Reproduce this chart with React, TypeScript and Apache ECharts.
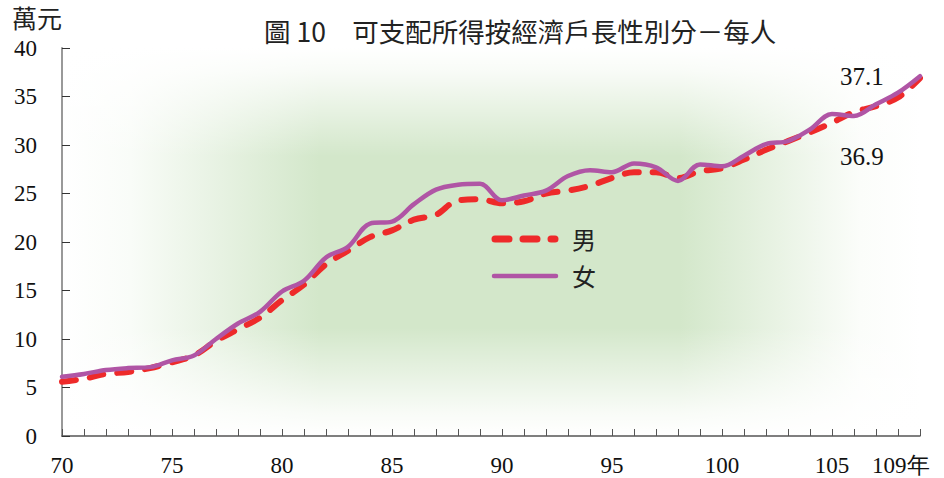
import React, { useEffect, useRef } from "react";
import * as echarts from "echarts";

const years = [70,71,72,73,74,75,76,77,78,79,80,81,82,83,84,85,86,87,88,89,90,91,92,93,94,95,96,97,98,99,100,101,102,103,104,105,106,107,108,109];
const male = [5.6,5.9,6.4,6.6,7.0,7.6,8.3,9.8,11.0,12.2,14.0,15.6,17.7,19.1,20.5,21.2,22.3,22.8,24.3,24.4,24.0,24.2,25.0,25.3,25.8,26.6,27.2,27.2,26.6,27.3,27.6,28.5,29.5,30.4,31.3,32.3,33.4,34.0,34.9,36.9];
const female = [6.1,6.4,6.8,7.0,7.1,7.8,8.3,10.0,11.6,12.8,14.9,16.0,18.4,19.5,21.9,22.1,23.9,25.4,25.9,26.0,24.3,24.8,25.3,26.8,27.4,27.2,28.1,27.7,26.3,28.0,27.8,28.9,30.1,30.4,31.6,33.2,33.0,34.2,35.4,37.1];
const xLabelYears = [70, 75, 80, 85, 90, 95, 100, 105];
const lastYearLabel = "109年";
const seriesNames = ["男", "女"];
const titleText = "圖 10　可支配所得按經濟戶長性別分－每人";
const unitText = "萬元";

const serif = "'Liberation Serif', 'Times New Roman', serif";
const cjk = "'Noto Sans CJK TC', 'Noto Sans', sans-serif";
const RED = "#ee2a2a";
const PURPLE = "#b055a5";

export default function App() {
  const ref = useRef<HTMLDivElement>(null);
  useEffect(() => {
    document.body.style.margin = "0";
    document.body.style.overflow = "hidden";
    const chart = echarts.init(ref.current!, null, { renderer: "svg" });
    const maleData = years.map((y, i) => [y, male[i]]);
    const femaleData = years.map((y, i) => [y, female[i]]);
    chart.setOption({
      animation: false,
      backgroundColor: "#ffffff",
      grid: { left: 62, right: 24, top: 48, bottom: 42 },
      graphic: [
        {
          type: "rect",
          z: -10,
          silent: true,
          shape: { x: 62, y: 48, width: 858, height: 388 },
          style: {
            fill: new echarts.graphic.LinearGradient(0, 0, 1, 0, [
              { offset: 0, color: "#ffffff" },
              { offset: 0.08, color: "#f9fcf8" },
              { offset: 0.3, color: "#d3e7ca" },
              { offset: 0.72, color: "#d3e7ca" },
              { offset: 0.93, color: "#fbfdfa" },
              { offset: 1, color: "#ffffff" },
            ]),
          },
        },
        {
          type: "rect",
          z: -9,
          silent: true,
          shape: { x: 62, y: 48, width: 858, height: 388 },
          style: {
            fill: new echarts.graphic.LinearGradient(0, 0, 0, 1, [
              { offset: 0, color: "rgba(255,255,255,1)" },
              { offset: 0.06, color: "rgba(255,255,255,0.85)" },
              { offset: 0.28, color: "rgba(255,255,255,0)" },
              { offset: 0.72, color: "rgba(255,255,255,0)" },
              { offset: 0.94, color: "rgba(255,255,255,0.85)" },
              { offset: 1, color: "rgba(255,255,255,1)" },
            ]),
          },
        },
        {
          type: "text",
          left: 264,
          top: 17,
          style: { text: titleText, font: `26.5px ${cjk}`, fill: "#222" },
        },
        {
          type: "text",
          left: 12,
          top: 4,
          style: { text: unitText, font: `25px ${cjk}`, fill: "#222" },
        },
        {
          type: "text",
          left: 872,
          top: 454,
          style: { text: lastYearLabel, font: `23px ${serif}`, fill: "#111" },
        },
        {
          type: "line",
          shape: { x1: 495, y1: 239, x2: 555, y2: 239 },
          style: { stroke: RED, lineWidth: 7, lineDash: [14, 14], lineCap: "round" },
        },
        {
          type: "text",
          left: 572,
          top: 226,
          style: { text: seriesNames[0], font: `24px ${cjk}`, fill: "#222" },
        },
        {
          type: "line",
          shape: { x1: 494, y1: 276, x2: 556, y2: 276 },
          style: { stroke: PURPLE, lineWidth: 4.5, lineCap: "round" },
        },
        {
          type: "text",
          left: 572,
          top: 263,
          style: { text: seriesNames[1], font: `24px ${cjk}`, fill: "#222" },
        },
      ],
      xAxis: {
        type: "value",
        min: 70,
        max: 109,
        interval: 1,
        splitLine: { show: false },
        axisLine: { show: true, lineStyle: { color: "#555", width: 1.5 } },
        axisTick: { show: true, inside: true, length: 7, lineStyle: { color: "#555" } },
        axisLabel: {
          margin: 18,
          fontSize: 23,
          fontFamily: serif,
          color: "#111",
          formatter: (v: number) => (xLabelYears.includes(v) ? String(v) : ""),
        },
      },
      yAxis: {
        type: "value",
        min: 0,
        max: 40,
        interval: 5,
        splitLine: { show: false },
        axisLine: { show: true, lineStyle: { color: "#999", width: 2 } },
        axisTick: { show: true, inside: true, length: 8, lineStyle: { color: "#333" } },
        axisLabel: { margin: 25, fontSize: 23, fontFamily: serif, color: "#111" },
      },
      series: [
        {
          name: seriesNames[0],
          type: "line",
          data: maleData,
          smooth: 0.35,
          symbol: "none",
          z: 3,
          itemStyle: { color: RED },
          lineStyle: { color: RED, width: 6, type: [14, 14], cap: "round" },
          endLabel: {
            show: true,
            formatter: (p: any) => p.value[1].toFixed(1),
            offset: [-88, 78],
            fontSize: 25,
            fontFamily: serif,
            color: "#111",
          },
        },
        {
          name: seriesNames[1],
          type: "line",
          data: femaleData,
          smooth: 0.35,
          symbol: "none",
          z: 4,
          itemStyle: { color: PURPLE },
          lineStyle: { color: PURPLE, width: 4.5, cap: "round" },
          endLabel: {
            show: true,
            formatter: (p: any) => p.value[1].toFixed(1),
            offset: [-88, 0],
            fontSize: 25,
            fontFamily: serif,
            color: "#111",
          },
        },
      ],
    });
    return () => chart.dispose();
  }, []);
  return <div ref={ref} style={{ width: 944, height: 478 }} />;
}
